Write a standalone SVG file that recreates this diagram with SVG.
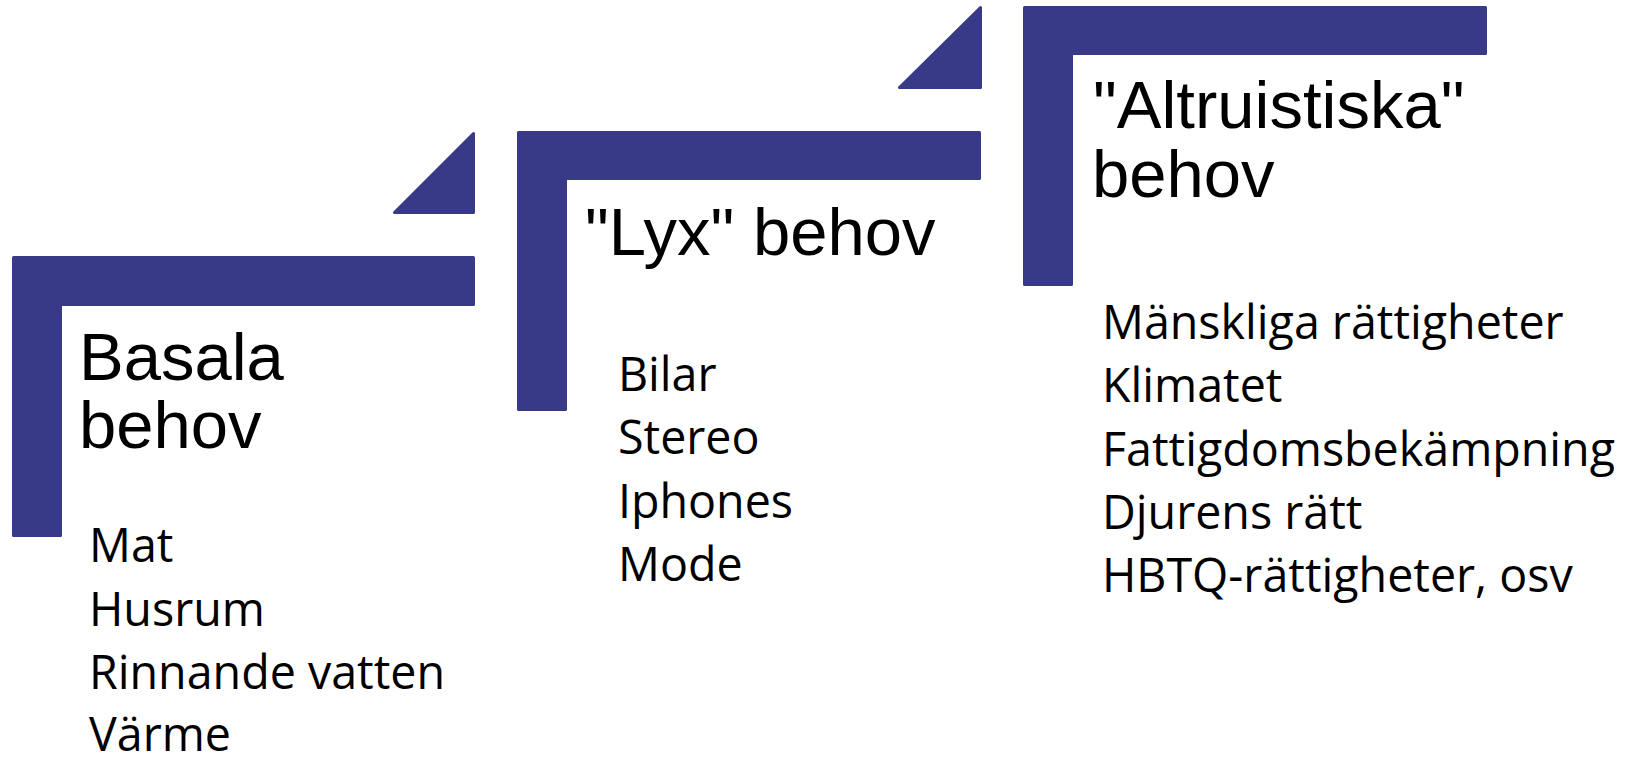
<svg xmlns="http://www.w3.org/2000/svg" width="1629" height="757" viewBox="0 0 1629 757">
  <style>
    .shape { fill: #383A88; stroke: #383A88; stroke-width: 3; stroke-linejoin: round; }
    .head { font-family: "Liberation Sans", Arial, sans-serif; font-size: 67px; fill: #000000; }
    .item { font-family: "Open Sans", "Noto Sans", sans-serif; font-size: 46.6px; fill: #000000; }
  </style>
  <rect width="1629" height="757" fill="#ffffff"/>

  <g id="connectors">
    <polygon class="shape" points="473.5,133.5 473.5,212.5 394.5,212.5"/>
    <polygon class="shape" points="980.5,7.5 980.5,87.5 899.5,87.5"/>
  </g>

  <g id="node-basala">
    <polygon class="shape" points="13.5,257.5 473.5,257.5 473.5,304.5 60.5,304.5 60.5,535.5 13.5,535.5"/>
    <text class="head" x="79" y="380">Basala</text>
    <text class="head" x="79" y="448">behov</text>
    <text class="item" x="89" y="562">Mat</text>
    <text class="item" x="89" y="625.5">Husrum</text>
    <text class="item" x="89" y="689">Rinnande vatten</text>
    <text class="item" x="89" y="751">Värme</text>
  </g>

  <g id="node-lyx">
    <polygon class="shape" points="518.5,132.5 979.5,132.5 979.5,178.5 565.5,178.5 565.5,409.5 518.5,409.5"/>
    <text class="head" x="585" y="255">"Lyx" behov</text>
    <text class="item" x="618" y="391">Bilar</text>
    <text class="item" x="618" y="454">Stereo</text>
    <text class="item" x="618" y="517.5">Iphones</text>
    <text class="item" x="618" y="581">Mode</text>
  </g>

  <g id="node-altruistiska">
    <polygon class="shape" points="1024.5,7.5 1485.5,7.5 1485.5,53.5 1071.5,53.5 1071.5,284.5 1024.5,284.5"/>
    <text class="head" x="1093" y="128">"Altruistiska"</text>
    <text class="head" x="1092" y="197">behov</text>
    <text class="item" x="1102" y="339">Mänskliga rättigheter</text>
    <text class="item" x="1102" y="402.3">Klimatet</text>
    <text class="item" x="1102" y="465.6">Fattigdomsbekämpning</text>
    <text class="item" x="1102" y="528.9">Djurens rätt</text>
    <text class="item" x="1102" y="592.2">HBTQ-rättigheter, osv</text>
  </g>
</svg>
